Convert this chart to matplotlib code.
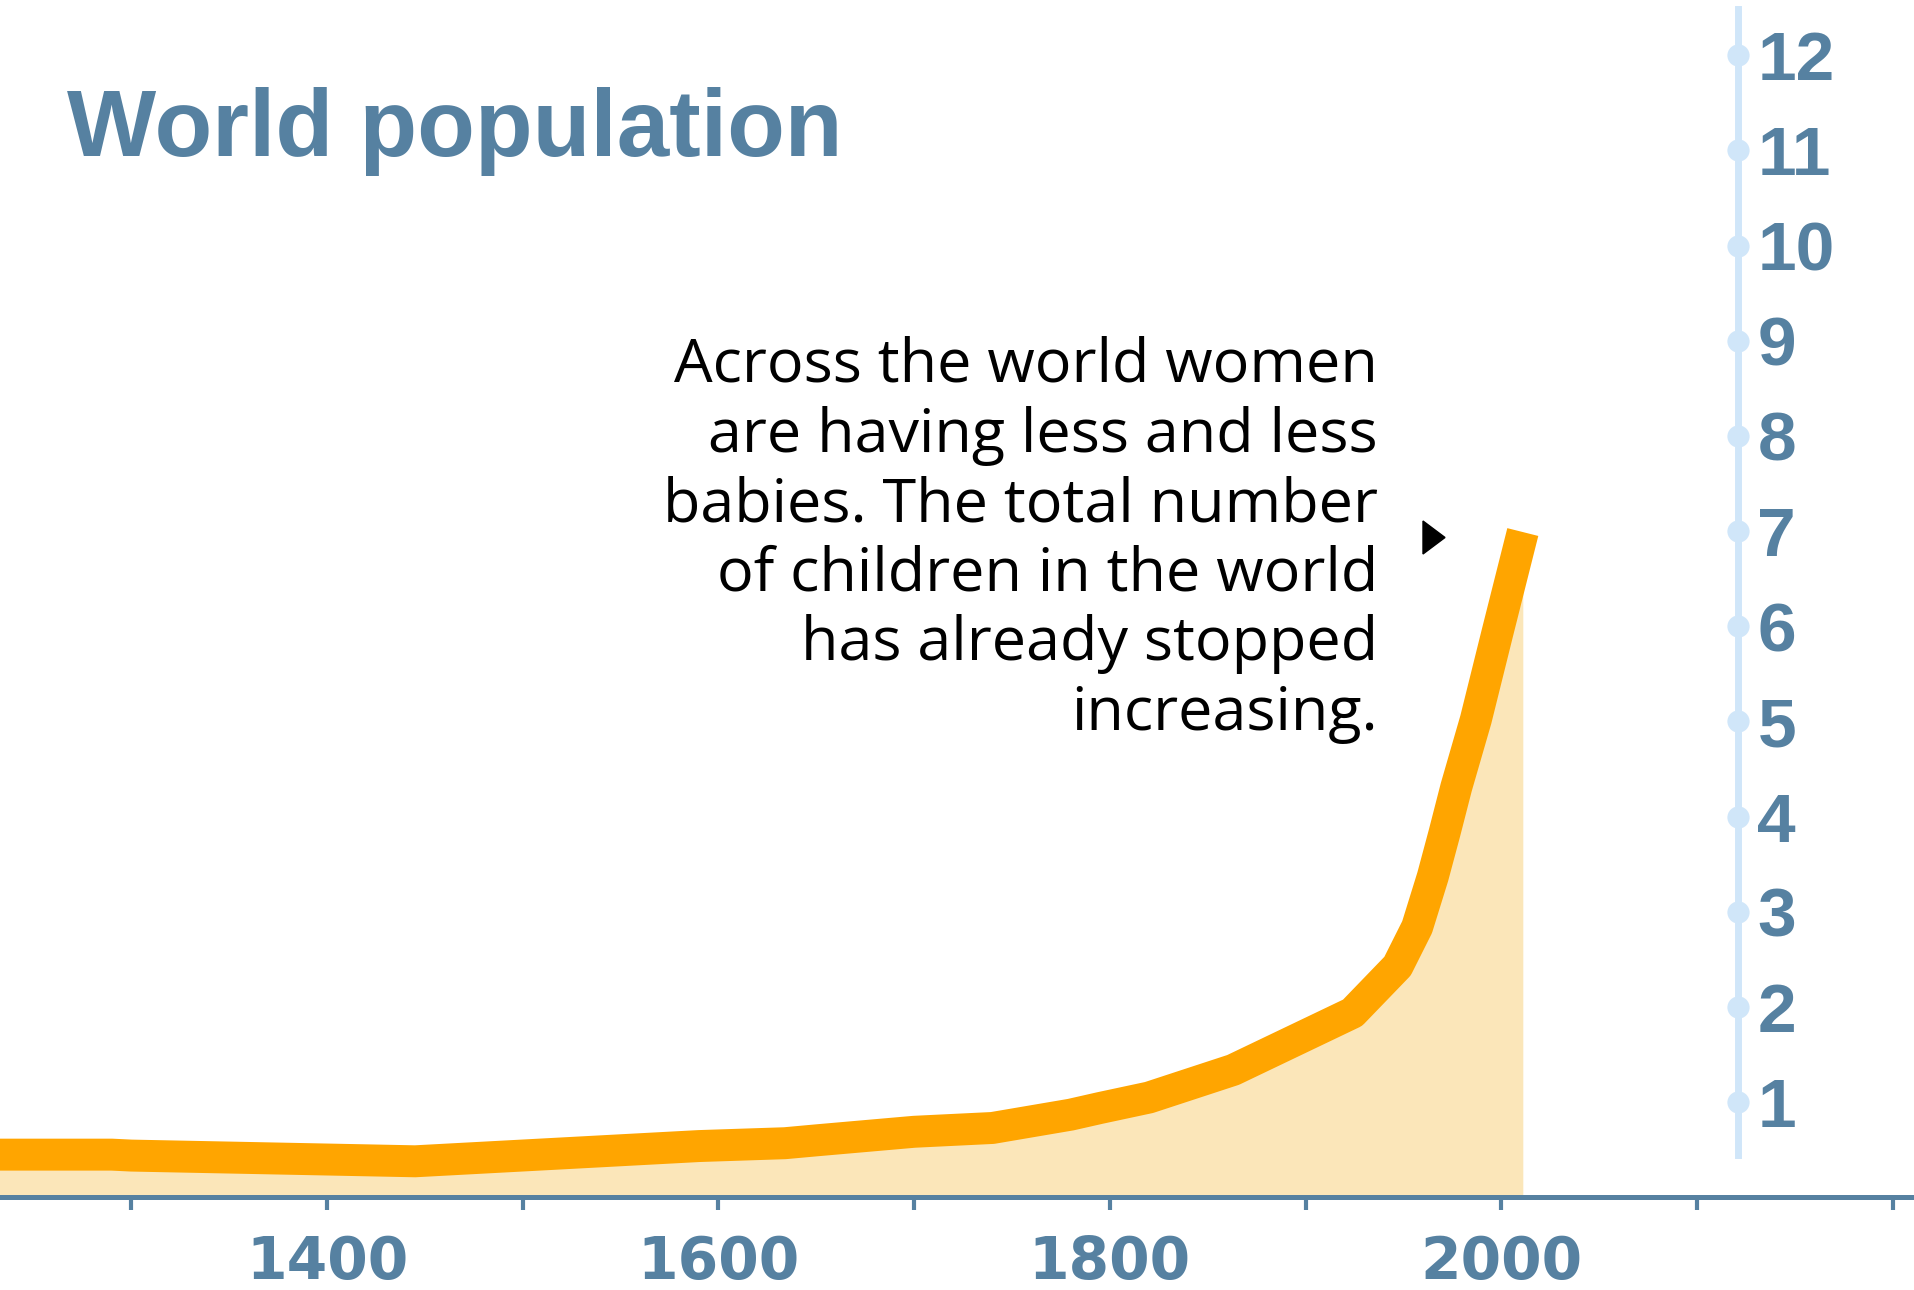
import numpy as np
import matplotlib.pyplot as plt
from matplotlib.patches import Polygon

# world population, billions
years = [1230, 1290, 1300, 1445, 1590, 1634, 1650, 1700, 1740, 1780, 1795,
         1820, 1863, 1924, 1947, 1957, 1965, 1971, 1977, 1987, 1998, 2011]
population = [0.45, 0.45, 0.44, 0.38, 0.54, 0.57, 0.60, 0.69, 0.73, 0.87, 0.94,
              1.05, 1.34, 1.94, 2.43, 2.84, 3.37, 3.83, 4.31, 5.02, 5.93, 6.99]

x_ticks = list(range(1300, 2201, 100))
x_labels = ["1400", "1600", "1800", "2000"]
y_ticks = list(range(1, 13))
y_labels = [str(t) for t in y_ticks]

note_lines = ["Across the world women",
              "are having less and less",
              "babies. The total number",
              "of children in the world",
              "has already stopped",
              "increasing."]

BLUE = "#5681a1"
LIGHT_BLUE = "#d0e6f9"
ORANGE = "#ffa500"
FILL = "#fbe6b9"

W, H = 1915, 1290
fig = plt.figure(figsize=(W / 100, H / 100), dpi=100)
fig.patch.set_facecolor("white")

ax = fig.add_axes([0, 0, 1, 1])
ax.set_xlim(1232.9, 2211.4)
ax.set_ylim(-0.972, 12.579)

ax.fill_between(years, population, 0, color=FILL, lw=0, zorder=1)
ax.plot(years, population, color=ORANGE, lw=23, solid_capstyle="butt",
        solid_joinstyle="round", zorder=2)

for side in ["left", "right", "top"]:
    ax.spines[side].set_visible(False)
ax.spines["bottom"].set_position(("data", 0))
ax.spines["bottom"].set_color(BLUE)
ax.spines["bottom"].set_linewidth(3.6)
ax.spines["bottom"].set_zorder(3)
ax.set_yticks([])
ax.set_xticks(x_ticks)
ax.set_xticklabels([str(t) if str(t) in x_labels else "" for t in x_ticks],
                   fontsize=42, fontweight="bold", family="DejaVu Sans",
                   color=BLUE)
ax.tick_params(axis="x", direction="out", length=9, width=3, color=BLUE, pad=17)
ax.patch.set_alpha(0)

# value axis on the right
ay = fig.add_axes([1737 / W, 0, 1 / W, 1])
ay.set_ylim(ax.get_ylim())
ay.set_xlim(0, 1)
ay.patch.set_alpha(0)
for side in ["left", "bottom", "top"]:
    ay.spines[side].set_visible(False)
ay.spines["right"].set_color(LIGHT_BLUE)
ay.spines["right"].set_linewidth(5)
ay.spines["right"].set_bounds(0.45, 12.48)
ay.set_xticks([])
ay.yaxis.tick_right()
ay.set_yticks(y_ticks)
ay.set_yticklabels(y_labels, fontsize=50, fontweight="bold",
                   family="Liberation Sans", color=BLUE)
ay.tick_params(axis="y", length=0, pad=14)
ay.plot(np.ones(len(y_ticks)), y_ticks, "o", ms=16, color=LIGHT_BLUE,
        mec="none", clip_on=False)

fig.text(67 / W, 1 - 156 / H, "World population", fontsize=68,
         fontweight="bold", family="Liberation Sans", color=BLUE,
         ha="left", va="baseline")

for i, line in enumerate(note_lines):
    fig.text(1378 / W, 1 - (382 + i * 69.6) / H, line, fontsize=44,
             family="Open Sans", color="black", ha="right", va="baseline")

tri = np.array([[1423, 521], [1423, 554], [1445, 537.5]], dtype=float)
tri[:, 0] /= W
tri[:, 1] = 1 - tri[:, 1] / H
fig.patches.append(Polygon(tri, closed=True, color="black",
                           transform=fig.transFigure, figure=fig))

fig.savefig("out.png", dpi=100)
